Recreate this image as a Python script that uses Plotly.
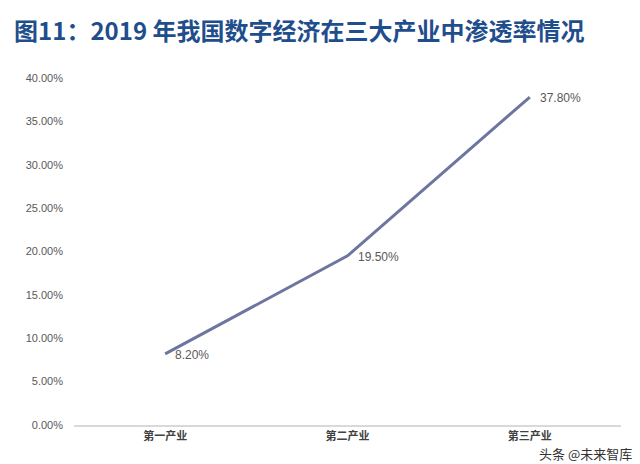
import plotly.graph_objects as go

categories = ["第一产业", "第二产业", "第三产业"]
values = [8.20, 19.50, 37.80]
y_ticks = [0, 5, 10, 15, 20, 25, 30, 35, 40]
y_tick_labels = [f"{v:.2f}%" for v in y_ticks]
data_labels = [f"{v:.2f}%" for v in values]

fig = go.Figure()
fig.add_trace(go.Scatter(
    x=categories, y=values, mode="lines",
    line=dict(color="#6E76A0", width=3),
    hoverinfo="skip", showlegend=False,
))

annotations = []
for c, v, t in zip(categories, values, data_labels):
    annotations.append(dict(
        x=c, y=v, xref="x", yref="y", text=t, showarrow=False,
        xanchor="left", yanchor="middle", xshift=8, yshift=-1,
        font=dict(family="Liberation Sans, Arial", size=12, color="#595959"),
    ))

plot_h = 464 - 78 - 39
plot_w = 640 - 74 - 19
annotations.append(dict(
    text="头条 @未来智库", xref="paper", yref="paper",
    x=(634 - 74) / plot_w, xanchor="right",
    y=(464 - 39 - 453) / plot_h, yanchor="middle", showarrow=False,
    font=dict(family="Noto Sans CJK SC", size=13, color="#333333"),
))

fig.update_layout(
    width=640, height=464,
    margin=dict(l=74, r=19, t=78, b=39),
    paper_bgcolor="white", plot_bgcolor="white",
    title=dict(
        text="<b>图11：2019 年我国数字经济在三大产业中渗透率情况</b>",
        x=0.022, xanchor="left", y=0.931, yanchor="middle",
        font=dict(family="Noto Sans CJK SC, Liberation Sans", size=24, color="#1F4E8C"),
    ),
    xaxis=dict(
        type="category", showgrid=False, zeroline=False,
        showline=True, linecolor="#D9D9D9", linewidth=1.5,
        tickvals=categories, ticktext=[f"<b>{c}</b>" for c in categories],
        ticks="", tickfont=dict(family="Noto Sans CJK SC", size=11, color="#404040"),
        range=[-0.5, 2.5],
    ),
    yaxis=dict(
        range=[0, 40], tickvals=y_ticks, ticktext=y_tick_labels,
        showgrid=False, zeroline=False, showline=False, ticks="",
        tickfont=dict(family="Liberation Sans, Arial", size=11, color="#595959"),
        ticklabelstandoff=10,
    ),
    annotations=annotations,
)

fig.write_html("out.html")
